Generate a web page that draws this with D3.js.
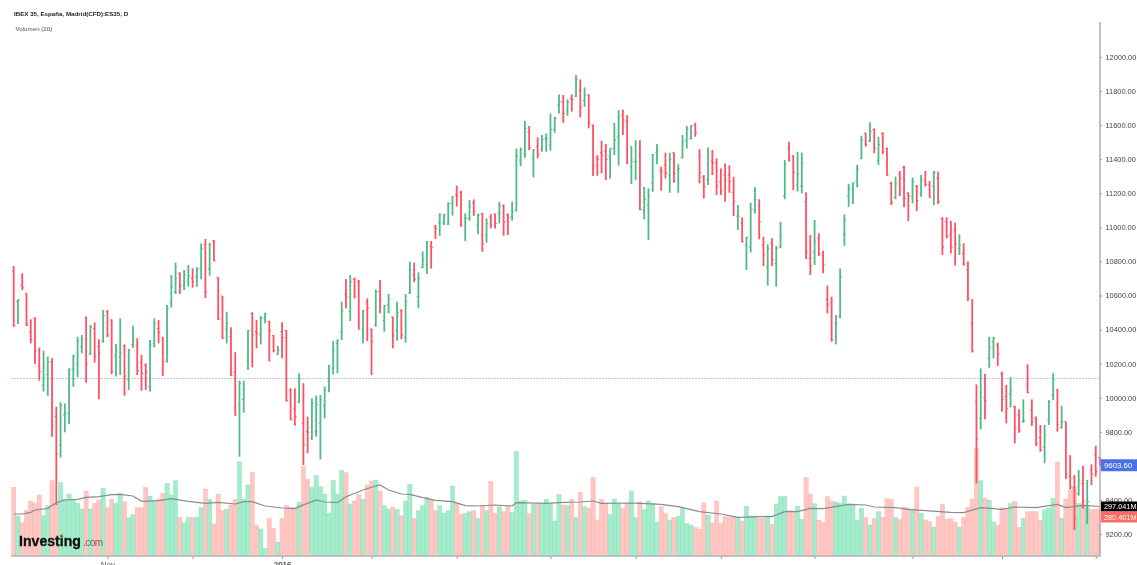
<!DOCTYPE html>
<html><head><meta charset="utf-8">
<script src="https://cdn.jsdelivr.net/npm/d3@7"></script>
<style>
html,body{margin:0;padding:0;background:#fff;overflow:hidden}
svg{display:block;filter:blur(.5px)}
text{font-family:"Liberation Sans",Arial,sans-serif}
</style></head><body>
<script>
const titleText="IBEX 35, España, Madrid(CFD):ES35, D";
const volumeTitle="Volumen (20)";
const priceTicks=[9200,9400,9600,9800,10000,10200,10400,10600,10800,11000,11200,11400,11600,11800,12000];
const monthTickBars=[22,42,63,84,104,126,146,166,188,211,232,254];
const monthTickLabels=["Nov","","2016","","","","","","","","",""];
const highs=[
10773,10578,10730,10613,10460,10472,10294,10276,10241,10231,
9947,9973,9967,10173,10251,10358,10368,10476,10427,10441,
10343,10515,10515,10460,10315,10466,10313,10286,10423,10349,
10251,10202,10339,10466,10456,10355,10544,10720,10793,10736,
10750,10779,10760,10766,10906,10932,10908,10926,10707,10597,
10505,10413,10267,10100,10100,10398,10501,10456,10480,10499,
10452,10368,10304,10443,10398,10055,10055,10143,10085,9889,
9996,10012,10016,10065,10192,10333,10343,10564,10697,10720,
10705,10691,10515,10583,10407,10636,10691,10544,10609,10476,
10564,10519,10609,10799,10793,10736,10858,10920,10920,11014,
11083,11079,11147,11184,11245,11215,11082,11160,11164,11082,
11086,11052,11078,11082,11150,11135,11082,11150,11463,11469,
11624,11595,11458,11528,11542,11551,11669,11649,11780,11777,
11751,11780,11894,11868,11822,11780,11604,11424,11508,11489,
11463,11614,11688,11692,11659,11477,11512,11512,11238,11229,
11430,11489,11356,11438,11438,11440,11371,11542,11595,11600,
11614,11458,11307,11469,11454,11405,11346,11375,11364,11297,
11131,11059,10945,11145,11235,11165,10945,10900,10936,10891,
11033,11395,11503,11425,11444,11439,11206,10955,11043,10965,
10863,10658,10593,10485,10759,11076,11255,11262,11366,11538,
11556,11617,11581,11532,11558,11468,11268,11298,11331,11362,
11206,11292,11249,11307,11331,11272,11331,11327,11059,11059,
11037,11028,10959,10906,10799,10579,10078,10172,10139,10358,
10358,10323,10153,10075,10120,9953,9932,9990,10196,9990,
9889,9840,9840,9986,10143,10051,9953,9859,9663,9546,
9575,9601,9517,9609,9718,9650];
const lows=[
10417,10433,10632,10421,10319,10198,10100,10036,10012,9771,
9370,9648,9797,9846,10065,10120,10261,10088,10251,10206,
9991,10323,10355,10137,10124,10133,10012,10045,10294,10133,
10041,10045,10036,10296,10319,10127,10206,10529,10609,10609,
10632,10652,10646,10652,10695,10585,10716,10802,10456,10345,
10319,10128,9895,9654,9912,10163,10178,10290,10313,10437,
10212,10266,10251,10231,9977,9869,9836,9967,9605,9674,
9752,9771,9638,9879,10032,10137,10143,10339,10525,10450,
10583,10398,10319,10333,10133,10417,10496,10388,10496,10290,
10335,10343,10323,10609,10677,10525,10760,10726,10758,10932,
10950,11014,11014,11069,11122,11003,10919,11039,11068,10960,
10857,10910,10994,10994,11023,10951,10955,11039,11092,11360,
11409,11454,11293,11405,11444,11444,11450,11555,11669,11614,
11655,11679,11763,11645,11708,11581,11301,11303,11317,11277,
11287,11424,11362,11542,11371,11254,11277,11101,11047,10925,
11209,11371,11215,11287,11203,11262,11203,11405,11463,11516,
11532,11258,11170,11248,11307,11190,11190,11150,11203,11067,
10984,10912,10750,10853,11082,10930,10773,10658,10773,10652,
10877,11165,11386,11219,11210,11200,10814,10720,10779,10832,
10730,10495,10329,10313,10466,10892,11121,11137,11235,11399,
11474,11499,11435,11366,11429,11303,11131,11165,11184,11118,
11037,11141,11096,11180,11239,11174,11131,11137,10838,10936,
10847,10775,10838,10775,10568,10266,9497,9814,9873,10176,
10231,10186,9918,9849,9943,9732,9795,9853,10026,9834,
9716,9683,9615,9840,9986,9801,9818,9523,9462,9223,
9425,9350,9258,9487,9536,9603.6];
const opens=[
10744,10564,10658,10613,10388,10466,10186,10073,10137,10212,
9889,9722,9899,9909,10173,10202,10300,10472,10257,10407,
10300,10329,10505,10456,10245,10237,10304,10108,10313,10304,
10206,10192,10065,10319,10407,10355,10222,10558,10623,10730,
10662,10681,10701,10707,10760,10900,10756,10920,10707,10597,
10402,10358,10149,9957,9990,10221,10495,10388,10368,10472,
10447,10364,10255,10388,10394,10045,9938,9977,9850,9801,
9762,9801,9850,9953,10094,10173,10319,10388,10607,10505,
10695,10681,10398,10564,10401,10427,10623,10452,10544,10472,
10394,10511,10353,10617,10721,10593,10764,10779,10891,11004,
11028,11028,11020,11141,11194,11203,11052,11052,11144,11013,
11078,10955,11062,11078,11082,11127,11072,11062,11101,11395,
11434,11561,11405,11477,11458,11522,11483,11575,11718,11737,
11688,11757,11771,11802,11743,11777,11600,11405,11438,11444,
11418,11463,11532,11659,11620,11356,11385,11424,11101,11131,
11262,11438,11336,11366,11307,11438,11336,11409,11512,11522,
11600,11424,11297,11281,11389,11379,11268,11307,11307,11204,
11066,11024,10896,10883,11102,11125,10896,10769,10906,10789,
10887,11184,11464,11415,11249,11243,11151,10818,10857,10936,
10838,10577,10558,10362,10476,10959,11184,11223,11268,11405,
11552,11509,11575,11392,11552,11464,11258,11176,11313,11352,
11200,11180,11239,11196,11268,11249,11243,11288,11053,11033,
10955,10984,10877,10847,10750,10437,9977,9879,10000,10231,
10329,10309,10139,10006,10022,9947,9898,9859,10080,9928,
9879,9767,9709,9869,10016,10045,9826,9859,9540,9527,
9438,9497,9282,9575,9664,9648];
const closes=[
10421,10574,10646,10425,10343,10276,10153,10186,10208,9840,
9670,9953,9908,10163,10245,10335,10343,10196,10413,10245,
10261,10480,10368,10153,10276,10261,10127,10276,10339,10159,
10143,10149,10310,10437,10382,10212,10525,10652,10701,10652,
10720,10715,10681,10750,10877,10620,10896,10802,10460,10349,
10437,10133,9899,10085,10049,10394,10364,10378,10466,10492,
10394,10276,10280,10353,9983,9869,9889,10114,9722,9797,
9967,9957,9987,10045,10186,10276,10333,10511,10589,10681,
10597,10456,10511,10525,10329,10623,10578,10539,10578,10368,
10499,10368,10564,10750,10695,10701,10805,10916,10883,10993,
11073,11073,11141,11180,11184,11013,11052,11125,11092,11072,
10906,11023,11013,11023,11125,11033,11058,11092,11418,11458,
11581,11469,11454,11428,11516,11522,11575,11640,11737,11669,
11737,11751,11868,11708,11777,11614,11366,11400,11424,11399,
11463,11512,11645,11630,11379,11385,11385,11105,11164,11184,
11428,11450,11326,11317,11399,11317,11346,11503,11581,11596,
11555,11320,11242,11424,11379,11242,11215,11274,11268,11151,
11066,10916,10941,11102,11161,11033,10838,10877,10812,10877,
10945,11372,11395,11323,11313,11376,10857,10773,10916,10848,
10783,10544,10339,10437,10711,11043,11229,11262,11341,11513,
11484,11562,11464,11487,11444,11307,11145,11255,11288,11170,
11184,11268,11157,11282,11253,11176,11321,11151,10883,10945,
10883,10902,10896,10785,10583,10270,9757,10114,9983,10296,
10352,10257,9990,9938,10045,9820,9804,9865,10031,9859,
9732,9693,9781,9977,10104,9840,9859,9552,9478,9292,
9517,9390,9390,9552,9566,9603.6];
const volumes=[
412,240,200,272,330,316,366,242,302,452,
316,440,340,372,340,316,282,390,282,316,
336,406,290,340,316,376,326,230,250,290,
290,412,360,330,342,376,436,366,452,232,
200,232,232,232,290,402,340,192,372,272,
280,306,340,566,340,426,502,186,162,46,
226,166,84,226,302,290,290,324,540,460,
412,482,416,372,256,452,372,512,500,312,
330,370,340,426,450,456,390,302,282,294,
280,242,330,430,226,272,302,350,340,272,
302,256,272,420,316,250,256,266,272,226,
302,272,446,256,296,266,300,260,626,330,
334,254,312,312,312,340,316,210,370,306,
302,340,232,382,296,288,472,216,340,316,
250,342,316,284,316,390,230,324,280,330,
316,204,296,256,216,230,238,288,196,186,
172,160,318,246,198,330,198,236,232,236,
230,210,298,240,240,226,226,240,192,312,
356,356,272,272,300,220,470,372,314,216,
202,356,330,324,316,360,312,312,216,286,
232,186,226,266,232,344,340,230,220,294,
288,280,414,256,216,206,174,236,312,220,
224,204,172,230,292,342,642,452,348,334,
204,186,290,280,314,328,172,226,266,266,
266,216,278,288,346,564,226,342,396,416,
316,312,296,280,280,280.401];
const maBars=[0,2,4,5,8,10,12,15,17,20,23,25,28,30,34,37,41,45,48,52,54,56,59,63,66,67,71,73,76,78,82,85,86,88,91,93,96,99,103,106,109,113,117,118,125,129,133,136,138,145,147,152,156,161,166,170,175,178,181,184,187,190,196,200,202,207,210,214,220,223,227,232,235,240,245,247,251,255];
const maValues=[252,252,262,276,286,320,336,340,352,356,368,370,360,328,332,344,328,316,322,312,326,326,300,288,284,296,336,324,320,356,396,420,426,396,372,370,350,334,326,302,300,306,300,320,316,322,324,330,316,318,316,310,296,266,252,232,236,236,266,266,286,284,310,306,294,290,280,272,262,260,290,280,294,290,310,290,304,297.041];
const referenceLevel=10113;
const lastPrice="9603.60",lastMA="297.041M",lastVolume="280.401M";

const W=1137,H=565;
const svg=d3.select("body").append("svg").attr("width",W).attr("height",H);
const x=d3.scaleLinear().domain([0,255]).range([13.7,1100]);
const y=d3.scaleLinear().domain([9200,12000]).range([534,57]);
const yVol=d3.scaleLinear().domain([0,600]).range([556,456]);
const step=x(1)-x(0);
const idx=d3.range(highs.length);
const isUp=i=>closes[i]>=opens[i];

// volume bars
svg.append("g").selectAll("rect").data(idx).join("rect")
  .attr("x",i=>x(i)-step/2).attr("width",i=>i===255?step/2:step)
  .attr("y",i=>yVol(volumes[i])).attr("height",i=>556-yVol(volumes[i]))
  .attr("fill",i=>isUp(i)?"#9fecc9":"#ffc3bf")
  .attr("fill-opacity",.95)
  .attr("stroke",i=>isUp(i)?"#7fdcb2":"#fbaeaa").attr("stroke-width",.35);

// logo
const logo=svg.append("g");
logo.append("text").attr("x",19).attr("y",546).attr("font-size",15.5).attr("font-weight",700).attr("fill","#111")
  .attr("stroke","#111").attr("stroke-width",.35)
  .attr("textLength",62).attr("lengthAdjust","spacingAndGlyphs").text("Investing");
logo.append("text").attr("x",83).attr("y",546).attr("font-size",10).attr("fill","#666").attr("textLength",20).text(".com");
logo.append("circle").attr("cx",62).attr("cy",534.5).attr("r",1.2).attr("fill","#f5a623");

// reference line
svg.append("line").attr("x1",11).attr("x2",1100).attr("y1",y(referenceLevel)).attr("y2",y(referenceLevel))
  .attr("stroke","#b5c6f7").attr("stroke-width",1).attr("stroke-dasharray","2 1");

// OHLC bars
const ohlc=svg.append("g").selectAll("g").data(idx).join("g")
  .attr("stroke",i=>isUp(i)?"#4fb988":"#ff5064").attr("fill","none");
ohlc.append("line").attr("x1",i=>x(i)).attr("x2",i=>x(i)).attr("y1",i=>y(highs[i])).attr("y2",i=>y(lows[i])).attr("stroke-width",1.8);
ohlc.append("line").attr("x1",i=>x(i)-1.7).attr("x2",i=>x(i)).attr("y1",i=>y(opens[i])).attr("y2",i=>y(opens[i])).attr("stroke-width",1);
ohlc.append("line").attr("x1",i=>x(i)).attr("x2",i=>x(i)+1.7).attr("y1",i=>y(closes[i])).attr("y2",i=>y(closes[i])).attr("stroke-width",1);

// moving average
svg.append("path").datum(maBars).attr("fill","none").attr("stroke","#8c8c8c").attr("stroke-width",1.2)
  .attr("d",d3.line().x(b=>x(b)).y((b,k)=>yVol(maValues[k])));

// axes
const right=svg.append("g").attr("transform","translate(1100,0)")
  .call(d3.axisRight(y).tickValues(priceTicks).tickSize(2).tickPadding(3.5).tickFormat(d3.format(".2f")));
right.select(".domain").remove();
right.selectAll("line").attr("stroke","#999");
right.selectAll("text").attr("font-size",7.4).attr("fill","#444").style("font-family",'"Liberation Sans",Arial,sans-serif');
svg.append("line").attr("x1",1100).attr("x2",1100).attr("y1",22).attr("y2",557).attr("stroke","#9a9a9a").attr("stroke-width",1.2);

const bottom=svg.append("g").attr("transform","translate(0,556)")
  .call(d3.axisBottom(x).tickValues(monthTickBars).tickSize(3).tickPadding(2).tickFormat((d,i)=>monthTickLabels[i]));
bottom.select(".domain").remove();
bottom.selectAll("line").attr("stroke","#999");
bottom.selectAll("text").attr("font-size",8).attr("fill","#555").style("font-family",'"Liberation Sans",Arial,sans-serif')
  .attr("font-weight",(d,i)=>monthTickLabels[i]==="2016"?700:400);
svg.append("line").attr("x1",11).attr("x2",1100).attr("y1",556).attr("y2",556).attr("stroke","#b5b5b5").attr("stroke-width",1.3);

// value tags
function tag(cy,fill,txt,h,size){
  svg.append("rect").attr("x",1101).attr("y",cy-h/2).attr("width",36).attr("height",h).attr("fill",fill);
  svg.append("text").attr("x",1104).attr("y",cy+2.6).attr("font-size",size).attr("fill","#fff").text(txt);
}
tag(y(9603.6),"#4a72e6",lastPrice,12,7.8);
tag(506.5,"#000",lastMA,10,7.3);
tag(517,"#ff6a62",lastVolume,11,7.3);

// titles
svg.append("text").attr("x",14).attr("y",16).attr("font-size",6.2).attr("font-weight",700).attr("fill","#222").text(titleText);
svg.append("text").attr("x",15.5).attr("y",31).attr("font-size",6.2).attr("fill","#555").text(volumeTitle);
</script>
</body></html>
